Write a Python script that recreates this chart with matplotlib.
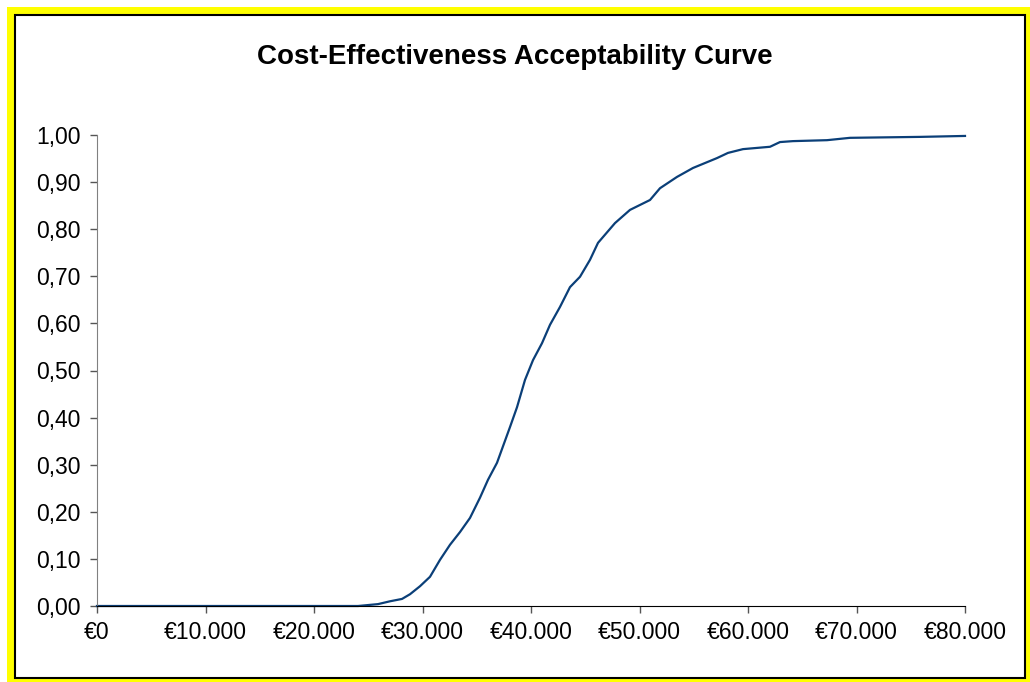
import matplotlib
matplotlib.use('Agg')
import matplotlib.pyplot as plt
from matplotlib.patches import Rectangle
from matplotlib.ticker import FuncFormatter

# willingness to pay (EUR) and probability cost-effective
wtp = [0, 24055, 25899, 27005, 28111, 28848, 29770, 30691, 31613, 32535,
       33456, 34378, 35300, 36037, 36866, 38065, 38710, 39447, 40184, 41014,
       41751, 42673, 43594, 44516, 45438, 46175, 47742, 49124, 50968, 51889,
       53456, 54931, 57143, 58157, 59539, 62028, 62949, 64147, 67281, 69401,
       75853, 80000]
prob = [0.0, 0.0, 0.004, 0.010, 0.015, 0.025, 0.042, 0.062, 0.098, 0.130,
        0.157, 0.187, 0.230, 0.268, 0.304, 0.380, 0.422, 0.480, 0.522, 0.558,
        0.597, 0.635, 0.677, 0.699, 0.735, 0.771, 0.813, 0.841, 0.862, 0.887,
        0.911, 0.930, 0.951, 0.962, 0.970, 0.975, 0.985, 0.987, 0.989, 0.994,
        0.996, 0.998]
xticks = [0, 10000, 20000, 30000, 40000, 50000, 60000, 70000, 80000]
yticks = [0.0, 0.1, 0.2, 0.3, 0.4, 0.5, 0.6, 0.7, 0.8, 0.9, 1.0]

plt.rcParams['font.family'] = ['Liberation Sans', 'DejaVu Sans']

W, H = 1030, 682
fig = plt.figure(figsize=(W / 100, H / 100), dpi=100)
fig.patch.set_facecolor('white')

# yellow frame with thin black inner border
fig.patches.append(Rectangle((7 / W, 0), 1 - 7 / W, 1 - 7 / H, transform=fig.transFigure,
                             facecolor='#ffff00', edgecolor='none', zorder=-3))
fig.patches.append(Rectangle((15 / W, 4 / H), 1010 / W, 1 - 19 / H, transform=fig.transFigure,
                             facecolor='white', edgecolor='black', linewidth=1.5, zorder=-2))

ax = fig.add_axes([97 / W, 1 - 606 / H, 868 / W, 471 / H])
ax.patch.set_alpha(0)
ax.plot(wtp, prob, color='#0b3f78', linewidth=1.6, clip_on=False)

ax.set_xlim(0, 80000)
ax.set_ylim(0, 1)
ax.set_xticks(xticks)
ax.set_yticks(yticks)
ax.xaxis.set_major_formatter(FuncFormatter(lambda v, p: '€' + f'{int(v):,}'.replace(',', '.')))
ax.yaxis.set_major_formatter(FuncFormatter(lambda v, p: f'{v:.2f}'.replace('.', ',')))

for s in ['top', 'right']:
    ax.spines[s].set_visible(False)
ax.spines['left'].set_color('#808080')
ax.spines['bottom'].set_color('black')
ax.tick_params(axis='both', direction='out', length=5, width=1, color='#555555',
               labelsize=16.5, labelcolor='black')
ax.tick_params(axis='x', pad=6)
ax.tick_params(axis='y', pad=7)

fig.text(0.5, 1 - 57 / H, 'Cost-Effectiveness Acceptability Curve', ha='center', va='center',
         fontsize=20, fontweight='bold')

fig.savefig('out.png', dpi=100)
